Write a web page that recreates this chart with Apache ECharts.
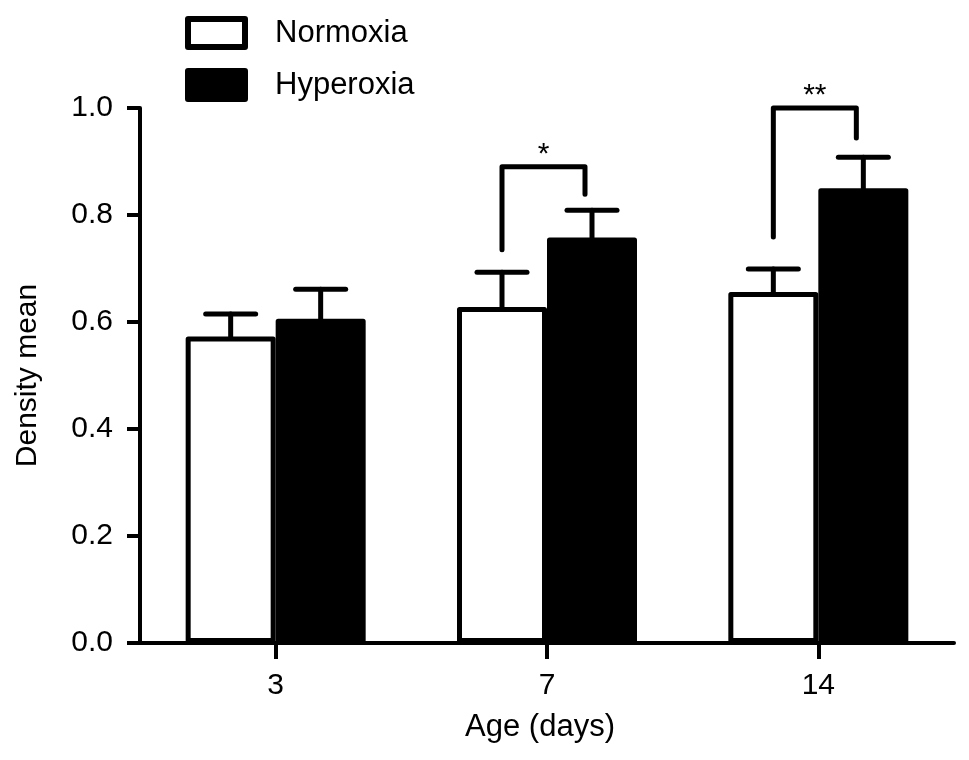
<!DOCTYPE html>
<html>
<head>
<meta charset="utf-8">
<script src="https://cdn.jsdelivr.net/npm/echarts@6/dist/echarts.min.js"></script>
<style>html,body{margin:0;padding:0;background:#fff;}#c{width:969px;height:760px;}</style>
</head>
<body>
<div id="c"></div>
<script>
// ---- data ----
const categories = ['3', '7', '14'];
const normoxiaMean = [0.573, 0.628, 0.656];
const normoxiaErr = [0.042, 0.065, 0.043];
const hyperoxiaMean = [0.606, 0.758, 0.850];
const hyperoxiaErr = [0.055, 0.051, 0.058];
const sigLabels = ['', '*', '**'];
const bracketTop = [null, 0.890, 1.000];
const bracketLeftEnd = [null, 0.735, 0.759];
const bracketRightEnd = [null, 0.839, 0.944];
const yTicks = [0, 0.2, 0.4, 0.6, 0.8, 1.0];

const FONT = '"Liberation Sans", Arial, Helvetica, sans-serif';
const BAR_W = 90;
const LW = 5;

function errItem(dir) {
  return function (params, api) {
    const i = api.value(0);
    const base = api.coord([i, api.value(1)]);
    const top = api.coord([i, api.value(2)]);
    const cx = base[0] + dir * BAR_W / 2;
    const style = { stroke: '#000', lineWidth: LW, lineCap: 'round' };
    return {
      type: 'group',
      children: [
        { type: 'line', shape: { x1: cx, y1: base[1], x2: cx, y2: top[1] }, style: style },
        { type: 'line', shape: { x1: cx - 25, y1: top[1], x2: cx + 25, y2: top[1] }, style: style }
      ]
    };
  };
}

const errN = categories.map((c, i) => [i, normoxiaMean[i], normoxiaMean[i] + normoxiaErr[i]]);
const errH = categories.map((c, i) => [i, hyperoxiaMean[i], hyperoxiaMean[i] + hyperoxiaErr[i]]);
const brackets = [];
categories.forEach((c, i) => {
  if (bracketTop[i] != null) brackets.push([i, bracketTop[i], bracketLeftEnd[i], bracketRightEnd[i], sigLabels[i]]);
});

const chart = echarts.init(document.getElementById('c'));
chart.setOption({
  animation: false,
  backgroundColor: '#fff',
  textStyle: { fontFamily: FONT, color: '#000' },
  grid: { left: 140, right: 15, top: 108, bottom: 117, containLabel: false, outerBoundsMode: 'none' },
  legend: {
    data: ['Normoxia', 'Hyperoxia'],
    orient: 'vertical',
    left: 185, top: 16,
    padding: 0,
    itemWidth: 57, itemHeight: 28, itemGap: 18,
    icon: 'rect',
    selectedMode: false,
    itemStyle: { borderWidth: 6, borderColor: '#000', borderJoin: 'round' },
    textStyle: { fontSize: 31, color: '#000', fontFamily: FONT, padding: [6, 0, 0, 25] }
  },
  xAxis: {
    type: 'category',
    data: categories,
    name: 'Age (days)',
    nameLocation: 'middle',
    nameGap: 69,
    nameTextStyle: { fontSize: 31, color: '#000', fontFamily: FONT, padding: [0, 14, 0, 0] },
    axisLine: { show: true, lineStyle: { color: '#000', width: 4 } },
    axisTick: { show: true, alignWithLabel: true, length: 16, lineStyle: { color: '#000', width: 4 } },
    axisLabel: { fontSize: 30, color: '#000', margin: 28, fontFamily: FONT },
    splitLine: { show: false }
  },
  yAxis: {
    type: 'value',
    min: 0, max: 1, interval: 0.2,
    name: 'Density mean',
    nameLocation: 'middle',
    nameGap: 97,
    nameTextStyle: { fontSize: 30, color: '#000', fontFamily: FONT },
    axisLine: { show: true, lineStyle: { color: '#000', width: 4 } },
    axisTick: { show: true, length: 13, lineStyle: { color: '#000', width: 4 } },
    axisLabel: { fontSize: 30, color: '#000', margin: 27, fontFamily: FONT,
      formatter: v => yTicks.includes(+v.toFixed(1)) ? v.toFixed(1) : '' },
    splitLine: { show: false }
  },
  series: [
    {
      name: 'Normoxia', type: 'bar', data: normoxiaMean, barWidth: BAR_W, barGap: '0%',
      itemStyle: { color: '#fff', borderColor: '#000', borderWidth: LW, borderJoin: 'round' },
      z: 2
    },
    {
      name: 'Hyperoxia', type: 'bar', data: hyperoxiaMean, barWidth: BAR_W, barGap: '0%',
      itemStyle: { color: '#000', borderColor: '#000', borderWidth: LW, borderJoin: 'round' },
      z: 3
    },
    { name: 'errN', type: 'custom', data: errN, renderItem: errItem(-1), z: 4 },
    { name: 'errH', type: 'custom', data: errH, renderItem: errItem(1), z: 4 },
    {
      name: 'sig', type: 'custom', data: brackets, z: 5,
      renderItem: function (params, api) {
        const i = api.value(0);
        const t = api.coord([i, api.value(1)]);
        const l = api.coord([i, api.value(2)]);
        const r = api.coord([i, api.value(3)]);
        const lx = t[0] - BAR_W / 2;
        const rx = t[0] + BAR_W / 2 - 7;
        return {
          type: 'group',
          children: [
            { type: 'polyline', shape: { points: [[lx, l[1]], [lx, t[1]], [rx, t[1]], [rx, r[1]]] },
              style: { stroke: '#000', lineWidth: LW, lineCap: 'round', lineJoin: 'round', fill: null } },
            { type: 'text', style: { text: brackets[params.dataIndex][4], x: (lx + rx) / 2, y: t[1] - 12,
              align: 'center', verticalAlign: 'middle', font: '30px ' + FONT, fill: '#000' } }
          ]
        };
      }
    }
  ]
});
</script>
</body>
</html>
